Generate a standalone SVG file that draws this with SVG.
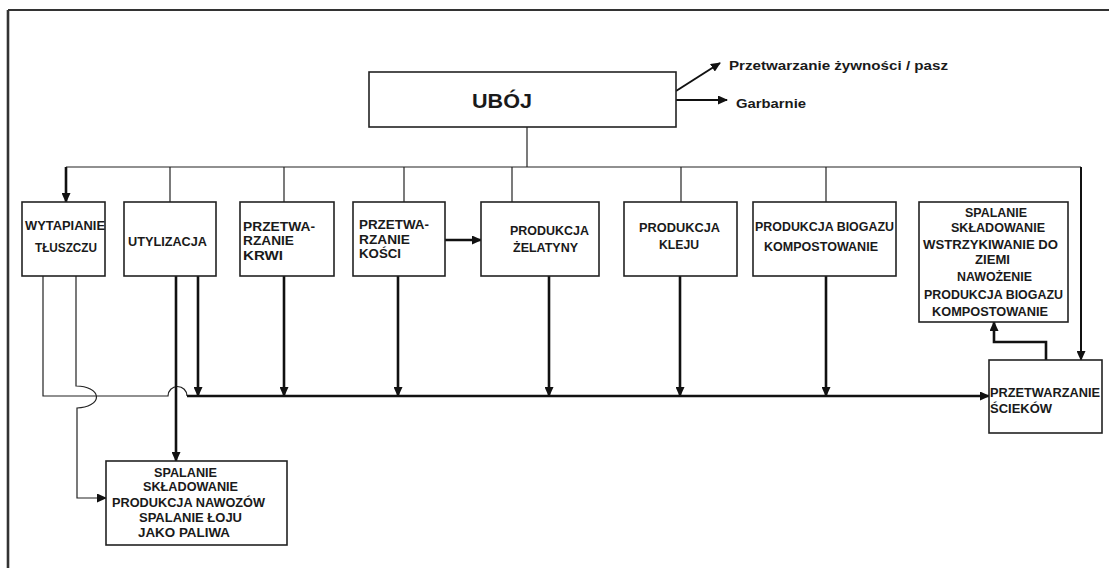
<svg xmlns="http://www.w3.org/2000/svg" width="1109" height="568" viewBox="0 0 1109 568">
  <defs>
    <marker id="ah" markerUnits="userSpaceOnUse" markerWidth="10" markerHeight="9" refX="9" refY="4.5" orient="auto">
      <path d="M0,0 L10,4.5 L0,9 Z" fill="#111"/>
    </marker>
  </defs>
  <style>
    .box { fill: #fff; stroke: #222; stroke-width: 1.6; }
    .thin { fill: none; stroke: #222; stroke-width: 1.2; }
    .thick { fill: none; stroke: #111; stroke-width: 2.6; }
    .mid { fill: none; stroke: #111; stroke-width: 2; }
    .frame { fill: none; stroke: #333; }
    text { font-family: "Liberation Sans", Arial, sans-serif; font-weight: bold; font-size: 12px; fill: #1a1a1a; }
    .big { font-size: 20px; }
    .side { font-size: 13.5px; }
  </style>

  <rect width="1109" height="568" fill="#fff"/>

  <!-- outer frame: only top and left edges -->
  <path class="frame" d="M8,10 H1109" stroke-width="2"/>
  <path class="frame" d="M8,10 V568" stroke-width="2.6"/>

  <!-- connectors -->
  <g id="connectors">
    <!-- outputs of the slaughter box -->
    <path class="mid" d="M676,91 L720,63" marker-end="url(#ah)"/>
    <path class="mid" d="M676,100 H727" marker-end="url(#ah)"/>
    <!-- stem and distribution bus -->
    <path class="thin" d="M527,127 V167"/>
    <path class="thin" d="M66,167 H1081" stroke-width="1.5"/>
    <path class="thick" d="M66,167 V202" marker-end="url(#ah)"/>
    <path class="thin" d="M170,167 V202"/>
    <path class="thin" d="M284,167 V202"/>
    <path class="thin" d="M404,167 V202"/>
    <path class="thin" d="M512,167 V202"/>
    <path class="thin" d="M681,167 V202"/>
    <path class="thin" d="M826,167 V202"/>
    <path class="mid" d="M1081,167 V360" marker-end="url(#ah)"/>
    <!-- bones to gelatine -->
    <path class="thick" d="M445,240 H481" marker-end="url(#ah)"/>
    <!-- rendering outputs -->
    <path class="thin" d="M43,276 V396 H168 A9.5,9.5 0 0 1 187,396"/>
    <path class="thin" d="M76,276 V386 A20,11 0 0 1 77,408 V498 H106" marker-end="url(#ah)"/>
    <!-- main collector to waste water treatment -->
    <path class="thick" d="M187,396 H989" marker-end="url(#ah)"/>
    <path class="thick" d="M176,276 V461" marker-end="url(#ah)"/>
    <path class="thick" d="M198,276 V396" marker-end="url(#ah)"/>
    <path class="thick" d="M284,276 V396" marker-end="url(#ah)"/>
    <path class="thick" d="M398,276 V396" marker-end="url(#ah)"/>
    <path class="thick" d="M549,276 V396" marker-end="url(#ah)"/>
    <path class="thick" d="M680,276 V396" marker-end="url(#ah)"/>
    <path class="thick" d="M826,276 V396" marker-end="url(#ah)"/>
    <!-- waste water to disposal -->
    <path class="thick" d="M1046,360 V342 H994 V322" marker-end="url(#ah)"/>
  </g>

  <g id="uboj">
    <rect class="box" x="369" y="72" width="307" height="55"/>
    <text class="big" x="472" y="108" textLength="60" lengthAdjust="spacingAndGlyphs">UBÓJ</text>
  </g>
  <g id="side-outputs">
    <text class="side" x="729" y="70" textLength="219" lengthAdjust="spacingAndGlyphs">Przetwarzanie żywności / pasz</text>
    <text class="side" x="736" y="108" textLength="70" lengthAdjust="spacingAndGlyphs">Garbarnie</text>
  </g>

  <g id="wytapianie">
    <rect class="box" x="22" y="202" width="83" height="74"/>
    <text x="25" y="230" textLength="80" lengthAdjust="spacingAndGlyphs">WYTAPIANIE</text>
    <text x="35" y="252" textLength="62" lengthAdjust="spacingAndGlyphs">TŁUSZCZU</text>
  </g>
  <g id="utylizacja">
    <rect class="box" x="124" y="202" width="92" height="74"/>
    <text x="128" y="246" textLength="79" lengthAdjust="spacingAndGlyphs">UTYLIZACJA</text>
  </g>
  <g id="krew">
    <rect class="box" x="240" y="202" width="94" height="74"/>
    <text x="243" y="231" textLength="72" lengthAdjust="spacingAndGlyphs">PRZETWA-</text>
    <text x="243" y="245" textLength="51" lengthAdjust="spacingAndGlyphs">RZANIE</text>
    <text x="243" y="260" textLength="40" lengthAdjust="spacingAndGlyphs">KRWI</text>
  </g>
  <g id="kosci">
    <rect class="box" x="353" y="202" width="92" height="74"/>
    <text x="359" y="229" textLength="70" lengthAdjust="spacingAndGlyphs">PRZETWA-</text>
    <text x="359" y="244" textLength="51" lengthAdjust="spacingAndGlyphs">RZANIE</text>
    <text x="359" y="258" textLength="42" lengthAdjust="spacingAndGlyphs">KOŚCI</text>
  </g>
  <g id="zelatyna">
    <rect class="box" x="481" y="202" width="118" height="74"/>
    <text x="510" y="235" textLength="79" lengthAdjust="spacingAndGlyphs">PRODUKCJA</text>
    <text x="513" y="252" textLength="65" lengthAdjust="spacingAndGlyphs">ŻELATYNY</text>
  </g>
  <g id="klej">
    <rect class="box" x="624" y="202" width="113" height="74"/>
    <text x="639" y="232" textLength="81" lengthAdjust="spacingAndGlyphs">PRODUKCJA</text>
    <text x="659" y="249" textLength="40" lengthAdjust="spacingAndGlyphs">KLEJU</text>
  </g>
  <g id="biogaz">
    <rect class="box" x="753" y="202" width="143" height="74"/>
    <text x="755" y="231" textLength="139" lengthAdjust="spacingAndGlyphs">PRODUKCJA BIOGAZU</text>
    <text x="764" y="251" textLength="114" lengthAdjust="spacingAndGlyphs">KOMPOSTOWANIE</text>
  </g>
  <g id="unieszkodliwianie">
    <rect class="box" x="919" y="202" width="149" height="120"/>
    <text x="965" y="217" textLength="62" lengthAdjust="spacingAndGlyphs">SPALANIE</text>
    <text x="951" y="232" textLength="94" lengthAdjust="spacingAndGlyphs">SKŁADOWANIE</text>
    <text x="923" y="249" textLength="135" lengthAdjust="spacingAndGlyphs">WSTRZYKIWANIE DO</text>
    <text x="975" y="264" textLength="35" lengthAdjust="spacingAndGlyphs">ZIEMI</text>
    <text x="957" y="281" textLength="75" lengthAdjust="spacingAndGlyphs">NAWOŻENIE</text>
    <text x="924" y="299" textLength="139" lengthAdjust="spacingAndGlyphs">PRODUKCJA BIOGAZU</text>
    <text x="932" y="316" textLength="116" lengthAdjust="spacingAndGlyphs">KOMPOSTOWANIE</text>
  </g>
  <g id="scieki">
    <rect class="box" x="989" y="360" width="113" height="73"/>
    <text x="990" y="397" textLength="110" lengthAdjust="spacingAndGlyphs">PRZETWARZANIE</text>
    <text x="990" y="413" textLength="62" lengthAdjust="spacingAndGlyphs">ŚCIEKÓW</text>
  </g>
  <g id="spalanie">
    <rect class="box" x="106" y="461" width="181" height="84"/>
    <text x="154" y="477" textLength="63" lengthAdjust="spacingAndGlyphs">SPALANIE</text>
    <text x="143" y="491" textLength="95" lengthAdjust="spacingAndGlyphs">SKŁADOWANIE</text>
    <text x="112" y="507" textLength="153" lengthAdjust="spacingAndGlyphs">PRODUKCJA NAWOZÓW</text>
    <text x="139" y="522" textLength="103" lengthAdjust="spacingAndGlyphs">SPALANIE ŁOJU</text>
    <text x="138" y="537" textLength="92" lengthAdjust="spacingAndGlyphs">JAKO PALIWA</text>
  </g>
</svg>
